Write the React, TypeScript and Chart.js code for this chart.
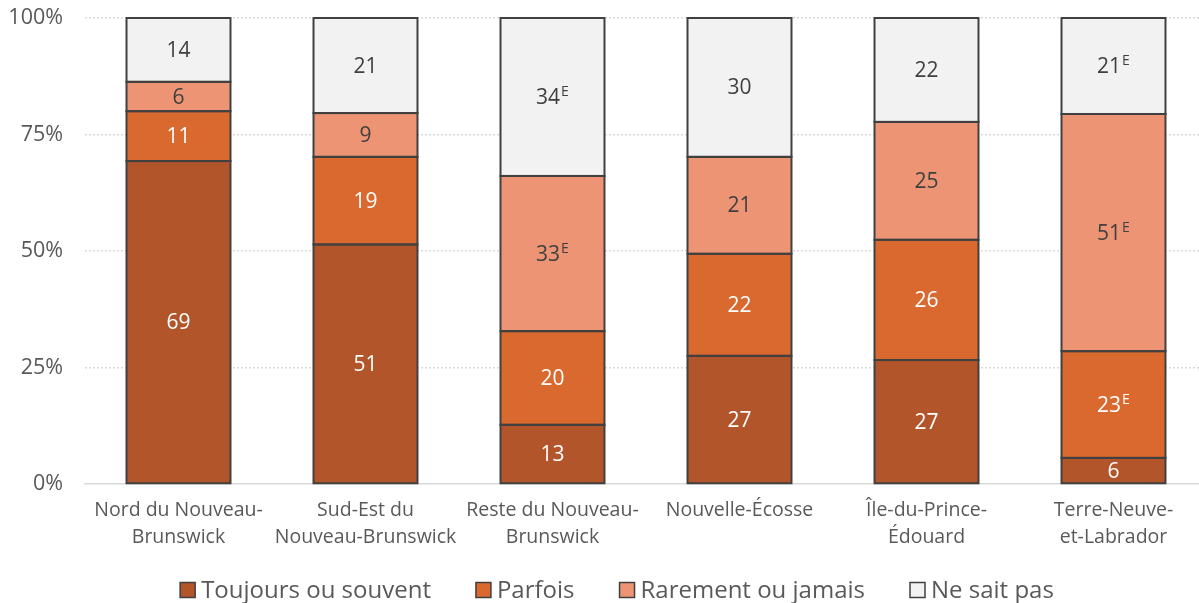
import React, { useEffect, useRef } from "react";
import { Chart, registerables } from "chart.js";

Chart.register(...registerables);

const categories: string[][] = [
  ["Nord du Nouveau-", "Brunswick"],
  ["Sud-Est du", "Nouveau-Brunswick"],
  ["Reste du Nouveau-", "Brunswick"],
  ["Nouvelle-Écosse"],
  ["Île-du-Prince-", "Édouard"],
  ["Terre-Neuve-", "et-Labrador"],
];

const seriesNames = ["Toujours ou souvent", "Parfois", "Rarement ou jamais", "Ne sait pas"];

const toujours = [69.3, 51.4, 12.7, 27.5, 26.6, 5.6];
const parfois = [10.7, 18.8, 20.1, 21.9, 25.8, 22.9];
const rarement = [6.3, 9.4, 33.3, 20.8, 25.3, 50.9];
const nesaitpas = [13.7, 20.4, 33.9, 29.8, 22.3, 20.6];

const toujoursLabels = ["69", "51", "13", "27", "27", "6"];
const parfoisLabels = ["11", "19", "20", "22", "26", "23E"];
const rarementLabels = ["6", "9", "33E", "21", "25", "51E"];
const nesaitpasLabels = ["14", "21", "34E", "30", "22", "21E"];

const yTicks = [0, 25, 50, 75, 100];

const colors = ["#B3552A", "#D9692E", "#EC9474", "#F2F2F2"];
const labelColors = ["#FFFFFF", "#FFFFFF", "#404040", "#404040"];
const FONT = "'Open Sans', 'Noto Sans', sans-serif";

const allLabels = [toujoursLabels, parfoisLabels, rarementLabels, nesaitpasLabels];

const outlinePlugin = {
  id: "segOutline",
  afterDatasetsDraw(chart: any) {
    const ctx = chart.ctx;
    ctx.save();
    ctx.strokeStyle = "#404040";
    ctx.lineWidth = 2;
    chart.data.datasets.forEach((ds: any, di: number) => {
      const meta = chart.getDatasetMeta(di);
      meta.data.forEach((el: any) => {
        const left = el.x - el.width / 2;
        const top = Math.min(el.y, el.base);
        const h = Math.abs(el.base - el.y);
        ctx.strokeRect(left, top, el.width, h);
      });
    });
    ctx.restore();
  },
};

const dataLabelPlugin = {
  id: "segLabels",
  afterDatasetsDraw(chart: any) {
    const ctx = chart.ctx;
    ctx.save();
    chart.data.datasets.forEach((ds: any, di: number) => {
      const meta = chart.getDatasetMeta(di);
      meta.data.forEach((el: any, i: number) => {
        const raw = allLabels[di][i];
        const hasE = raw.endsWith("E");
        const num = hasE ? raw.slice(0, -1) : raw;
        const cy = (el.y + el.base) / 2;
        ctx.font = `21px ${FONT}`;
        const w1 = ctx.measureText(num).width;
        ctx.font = `14px ${FONT}`;
        const w2 = hasE ? ctx.measureText("E").width + 1 : 0;
        const startX = el.x - (w1 + w2) / 2;
        ctx.fillStyle = labelColors[di];
        ctx.textBaseline = "middle";
        ctx.textAlign = "left";
        ctx.font = `21px ${FONT}`;
        ctx.fillText(num, startX, cy + 1);
        if (hasE) {
          ctx.font = `14px ${FONT}`;
          ctx.fillText("E", startX + w1 + 1, cy - 5);
        }
      });
    });
    ctx.restore();
  },
};

const legendPlugin = {
  id: "customLegend",
  afterDraw(chart: any) {
    const ctx = chart.ctx;
    ctx.save();
    ctx.font = `24px ${FONT}`;
    const box = 15;
    const gapBoxText = 6;
    const gapItems = 45;
    const widths = seriesNames.map((n) => ctx.measureText(n).width);
    const total =
      widths.reduce((a, b) => a + b, 0) + seriesNames.length * (box + gapBoxText) + gapItems * (seriesNames.length - 1);
    let x = 617 - total / 2;
    const cy = 590;
    seriesNames.forEach((n, i) => {
      ctx.fillStyle = colors[i];
      ctx.fillRect(x, cy - box / 2, box, box);
      ctx.strokeStyle = "#404040";
      ctx.lineWidth = 1.5;
      ctx.strokeRect(x, cy - box / 2, box, box);
      ctx.fillStyle = "#595959";
      ctx.textBaseline = "middle";
      ctx.textAlign = "left";
      ctx.fillText(n, x + box + gapBoxText, cy + 1);
      x += box + gapBoxText + widths[i] + gapItems;
    });
    ctx.restore();
  },
};

export default function App() {
  const ref = useRef<HTMLCanvasElement | null>(null);
  useEffect(() => {
    if (!ref.current) return;
    const seriesData = [toujours, parfois, rarement, nesaitpas];
    const chart = new Chart(ref.current, {
      type: "bar",
      data: {
        labels: categories,
        datasets: seriesNames.map((name, i) => ({
          label: name,
          data: seriesData[i],
          backgroundColor: colors[i],
          borderWidth: 0,
          barPercentage: 1,
          categoryPercentage: 0.556,
        })),
      },
      options: {
        responsive: false,
        animation: false,
        layout: { padding: { top: 18, bottom: 0, left: 0, right: 0 } },
        plugins: {
          legend: { display: false },
          tooltip: { enabled: false },
        },
        scales: {
          x: {
            stacked: true,
            grid: { display: false },
            border: { display: true, color: "#D9D9D9", width: 1.5 },
            ticks: {
              color: "#595959",
              font: { family: FONT, size: 19.5, lineHeight: "27px" },
              padding: 5,
              maxRotation: 0,
              autoSkip: false,
            },
            afterFit(scale: any) {
              scale.height = 119;
              scale.paddingTop = 0;
              scale.paddingBottom = 0;
              scale.paddingLeft = 0;
              scale.paddingRight = 0;
            },
          },
          y: {
            stacked: true,
            min: 0,
            max: 100,
            afterBuildTicks(scale: any) {
              scale.ticks = yTicks.map((v) => ({ value: v }));
            },
            grid: {
              color: (c: any) => (c.tick && c.tick.value === 0 ? "rgba(0,0,0,0)" : "#D9D9D9"),
              lineWidth: 1.5,
              drawTicks: false,
              tickLength: 0,
            },
            border: { display: false, dash: [2, 2] },
            ticks: {
              color: "#595959",
              font: { family: FONT, size: 21.5 },
              padding: 22,
              callback: (v: any) => v + "%",
            },
            afterFit(scale: any) {
              scale.width = 85;
              scale.paddingTop = 0;
              scale.paddingBottom = 0;
            },
          },
        },
      },
      plugins: [outlinePlugin, dataLabelPlugin, legendPlugin],
    });
    return () => chart.destroy();
  }, []);
  return (
    <div style={{ position: "absolute", left: 0, top: 0, width: 1199, height: 603, overflow: "hidden", background: "#fff" }}>
      <canvas ref={ref} width={1207} height={603} style={{ width: 1207, height: 603, display: "block" }} />
    </div>
  );
}
